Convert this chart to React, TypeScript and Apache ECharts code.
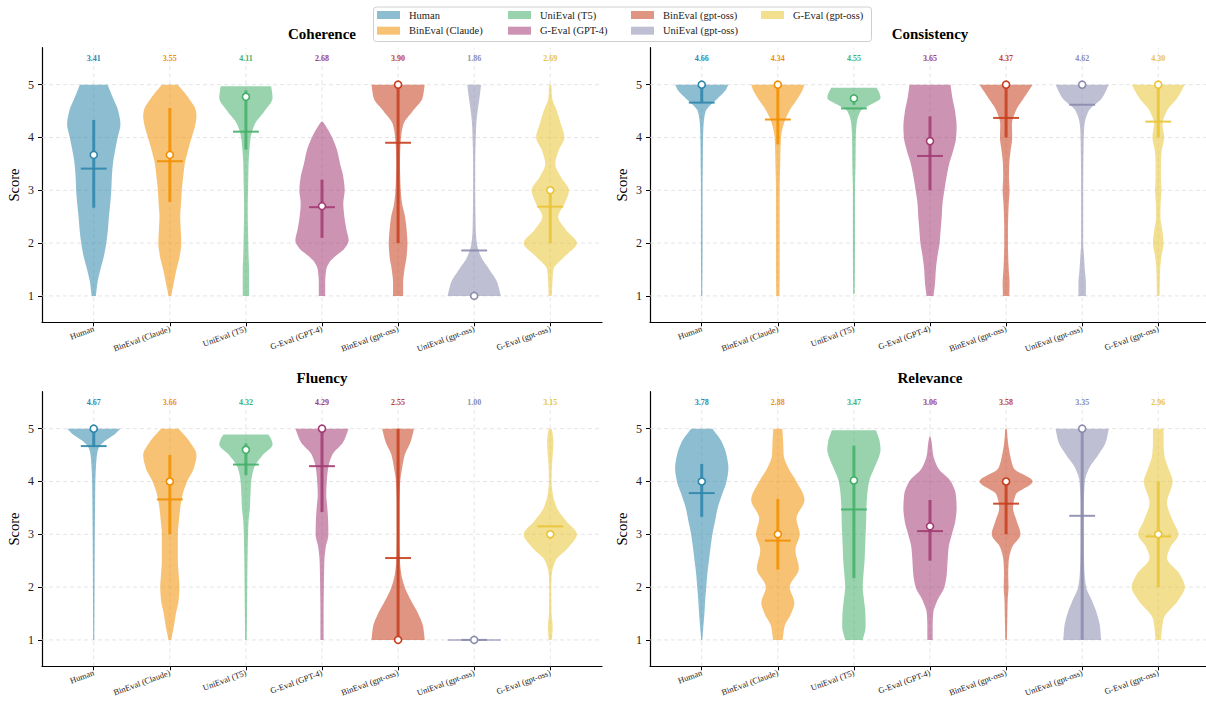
import React, { useEffect, useRef } from 'react';
import * as echarts from 'echarts';

const MODELS = ['Human', 'BinEval (Claude)', 'UniEval (T5)', 'G-Eval (GPT-4)', 'BinEval (gpt-oss)', 'UniEval (gpt-oss)', 'G-Eval (gpt-oss)'];
const COLORS = ['#2E86AB', '#F18F01', '#44AF69', '#A23B72', '#C73E1D', '#8B8BAE', '#EAC435'];
const METRICS = ['Coherence', 'Consistency', 'Fluency', 'Relevance'];
const Y_TICKS = [1, 2, 3, 4, 5];
const X_TICKS = [0, 1, 2, 3, 4, 5, 6];

// ---- Coherence ----
const COH_MEAN = [3.41, 3.55, 4.11, 2.68, 3.90, 1.86, 2.69];
const COH_MEDIAN = [3.67, 3.67, 4.77, 2.70, 5, 1, 3];
const COH_Q1 = [2.67, 2.78, 3.77, 2.1, 2, 1, 2];
const COH_Q3 = [4.33, 4.56, 4.89, 3.2, 5, 1, 3];
const COH_SHAPES = [
  [[1, .08], [1.25, .14], [1.5, .25], [1.75, .38], [2, .47], [2.25, .53], [2.5, .57], [2.75, .62], [3, .66], [3.25, .68], [3.5, .72], [3.75, .8], [4, .9], [4.25, 1], [4.5, .92], [4.75, .72], [5, .52]],
  [[1, .05], [1.25, .15], [1.5, .25], [1.75, .37], [2, .43], [2.25, .41], [2.5, .39], [2.75, .42], [3, .45], [3.25, .5], [3.5, .56], [3.75, .68], [4, .82], [4.25, .96], [4.4, 1], [4.5, .98], [4.75, .7], [5, .3]],
  [[1, .12], [1.25, .12], [1.5, .12], [1.75, .1], [2, .09], [2.25, .08], [2.5, .07], [2.75, .07], [3, .08], [3.25, .09], [3.5, .1], [3.75, .13], [4, .18], [4.25, .33], [4.5, .7], [4.75, 1], [4.97, .95]],
  [[1, .12], [1.25, .12], [1.5, .16], [1.65, .3], [1.75, .5], [1.9, .85], [2.05, 1], [2.25, .92], [2.5, .84], [2.75, .8], [3, .85], [3.25, .8], [3.5, .68], [3.75, .57], [4, .38], [4.25, .1], [4.3, .03]],
  [[1, .19], [1.25, .19], [1.5, .24], [1.75, .32], [2, .35], [2.25, .32], [2.5, .26], [2.75, .15], [3, .1], [3.25, .08], [3.5, .07], [3.75, .08], [4, .11], [4.25, .2], [4.5, .55], [4.75, .92], [5, 1]],
  [[1, 1], [1.25, .87], [1.5, .57], [1.75, .25], [2, .1], [2.25, .06], [2.5, .05], [3, .04], [3.5, .04], [4, .06], [4.25, .08], [4.5, .13], [4.75, .2], [5, .26]],
  [[1, .06], [1.25, .08], [1.5, .12], [1.75, .55], [2, 1], [2.25, .59], [2.5, .3], [2.75, .54], [3, .7], [3.25, .4], [3.5, .19], [3.75, .31], [4, .53], [4.25, .4], [4.5, .25], [4.75, .07], [5, .04]],
];

// ---- Consistency ----
const CON_MEAN = [4.66, 4.34, 4.55, 3.65, 4.37, 4.62, 4.30];
const CON_MEDIAN = [5, 5, 4.74, 3.93, 5, 5, 5];
const CON_Q1 = [4.67, 3.87, 4.62, 3, 4, 5, 4];
const CON_Q3 = [5, 5, 4.8, 4.4, 5, 5, 5];
const CON_SHAPES = [
  [[1, .02], [2, .03], [3, .03], [3.5, .04], [4, .05], [4.25, .07], [4.5, .15], [4.6, .3], [4.75, .62], [4.9, .9], [5, 1]],
  [[1, .06], [1.5, .07], [2, .07], [2.5, .07], [3, .07], [3.5, .09], [3.75, .1], [4, .12], [4.25, .22], [4.5, .43], [4.75, .76], [4.9, .93], [5, 1]],
  [[1.04, .03], [2, .04], [3, .04], [3.5, .06], [4, .07], [4.25, .1], [4.5, .25], [4.6, .55], [4.75, 1], [4.85, .95], [4.94, .85]],
  [[1, .13], [1.25, .19], [1.5, .22], [1.75, .28], [2, .36], [2.25, .4], [2.5, .44], [2.75, .47], [3, .54], [3.25, .62], [3.5, .72], [3.75, .87], [4, .98], [4.2, 1], [4.5, .94], [4.75, .84], [5, .77]],
  [[1, .12], [1.25, .13], [1.5, .1], [1.75, .08], [2, .07], [2.25, .07], [2.5, .08], [2.75, .1], [3, .13], [3.25, .11], [3.5, .12], [3.75, .17], [4, .23], [4.25, .22], [4.5, .36], [4.75, .67], [5, 1]],
  [[1, .14], [1.25, .14], [1.5, .1], [1.75, .07], [2, .04], [3, .04], [4, .06], [4.25, .09], [4.5, .24], [4.75, .75], [5, 1]],
  [[1, .05], [1.25, .06], [1.5, .07], [1.75, .12], [2, .2], [2.25, .15], [2.5, .08], [2.75, .09], [3, .12], [3.25, .1], [3.5, .1], [3.75, .13], [4, .22], [4.25, .16], [4.5, .32], [4.75, .72], [5, 1]],
];

// ---- Fluency ----
const FLU_MEAN = [4.67, 3.66, 4.32, 4.29, 2.55, 1.00, 3.15];
const FLU_MEDIAN = [5, 4, 4.6, 5, 1, 1, 3];
const FLU_Q1 = [4.67, 3, 4.12, 3.42, 1, 1, 3];
const FLU_Q3 = [5, 4.5, 4.72, 5, 5, 1, 3];
const FLU_SHAPES = [
  [[1, .02], [2, .03], [3, .04], [3.5, .05], [4, .06], [4.25, .08], [4.5, .12], [4.65, .2], [4.75, .38], [4.9, .8], [5, 1]],
  [[1, .05], [1.25, .15], [1.5, .23], [1.75, .33], [2, .36], [2.25, .33], [2.5, .3], [2.75, .3], [3, .3], [3.25, .34], [3.5, .39], [3.75, .48], [4, .65], [4.25, .9], [4.5, 1], [4.75, .75], [5, .33]],
  [[1, .03], [1.5, .04], [2, .05], [2.5, .06], [3, .08], [3.25, .1], [3.5, .15], [3.75, .17], [4, .2], [4.25, .3], [4.5, .63], [4.7, 1], [4.8, .95], [4.89, .84]],
  [[1, .06], [1.5, .06], [2, .07], [2.5, .09], [2.75, .14], [3, .24], [3.25, .23], [3.5, .2], [3.75, .16], [4, .18], [4.25, .23], [4.5, .38], [4.75, .8], [5, 1]],
  [[1, 1], [1.25, .94], [1.5, .75], [1.75, .48], [2, .25], [2.25, .12], [2.5, .07], [3, .05], [3.5, .05], [4, .08], [4.25, .15], [4.5, .25], [4.75, .47], [5, .6]],
  [[1, 1]],
  [[1, .06], [1.25, .09], [1.5, .05], [2, .04], [2.25, .06], [2.5, .2], [2.75, .68], [3, 1], [3.25, .6], [3.5, .25], [3.75, .1], [4, .05], [4.25, .06], [4.5, .09], [4.75, .12], [5, .06]],
];

// ---- Relevance ----
const REL_MEAN = [3.78, 2.88, 3.47, 3.06, 3.58, 3.35, 2.96];
const REL_MEDIAN = [4, 3, 4.02, 3.15, 4, 5, 3];
const REL_Q1 = [3.33, 2.33, 2.17, 2.5, 3, 1, 2];
const REL_Q3 = [4.33, 3.67, 4.68, 3.65, 4, 5, 4];
const REL_SHAPES = [
  [[1, .02], [1.25, .06], [1.5, .1], [1.75, .13], [2, .17], [2.25, .21], [2.5, .27], [2.75, .33], [3, .4], [3.25, .5], [3.5, .6], [3.75, .76], [4, .93], [4.25, 1], [4.5, .93], [4.75, .75], [5, .4]],
  [[1, .18], [1.25, .25], [1.5, .5], [1.7, .62], [2, .45], [2.35, .79], [2.7, .66], [3, .82], [3.3, .7], [3.65, 1], [4, .7], [4.25, .4], [4.5, .22], [4.75, .2], [5, .17]],
  [[1, .33], [1.25, .44], [1.5, .43], [1.75, .38], [2, .33], [2.25, .36], [2.5, .4], [2.75, .42], [3, .44], [3.25, .46], [3.5, .47], [3.75, .5], [4, .57], [4.25, .76], [4.5, .96], [4.6, 1], [4.75, .97], [4.97, .83]],
  [[1, .1], [1.25, .1], [1.5, .12], [1.75, .28], [2, .54], [2.25, .63], [2.5, .66], [2.75, .7], [3, .82], [3.25, .95], [3.5, 1], [3.75, .97], [4, .78], [4.25, .31], [4.5, .12], [4.75, .06], [4.85, .02]],
  [[1, .03], [1.5, .05], [1.75, .06], [2, .09], [2.25, .08], [2.5, .1], [2.75, .22], [3, .54], [3.25, .4], [3.5, .26], [3.75, .36], [4, 1], [4.25, .29], [4.5, .15], [4.75, .07], [5, .03]],
  [[1, .71], [1.25, .67], [1.5, .55], [1.75, .36], [2, .15], [2.25, .09], [2.5, .07], [3, .06], [3.5, .06], [4, .1], [4.25, .26], [4.5, .6], [4.75, .89], [5, 1]],
  [[1, .1], [1.25, .15], [1.4, .2], [1.75, .75], [2, 1], [2.25, .8], [2.55, .33], [2.75, .45], [3, .76], [3.25, .55], [3.6, .33], [4, .54], [4.25, .38], [4.5, .23], [4.75, .2], [5, .2]],
];

const PANELS = [
  { mean: COH_MEAN, median: COH_MEDIAN, q1: COH_Q1, q3: COH_Q3, shapes: COH_SHAPES },
  { mean: CON_MEAN, median: CON_MEDIAN, q1: CON_Q1, q3: CON_Q3, shapes: CON_SHAPES },
  { mean: FLU_MEAN, median: FLU_MEDIAN, q1: FLU_Q1, q3: FLU_Q3, shapes: FLU_SHAPES },
  { mean: REL_MEAN, median: REL_MEDIAN, q1: REL_Q1, q3: REL_Q3, shapes: REL_SHAPES },
];

const X_MIN = -0.68, X_MAX = 6.68, Y_MIN = 0.5, Y_MAX = 5.7;
const HALF = 0.35, MEAN_HALF = 0.17, LABEL_Y = 5.5;
const FONT = "'Liberation Serif', 'DejaVu Serif', serif";

function rgba(hex: string, a: number) {
  const n = parseInt(hex.slice(1), 16);
  return `rgba(${(n >> 16) & 255},${(n >> 8) & 255},${n & 255},${a})`;
}

// monotone cubic (Fritsch-Carlson) densification of the read outline
function densify(pts: number[][]): number[][] {
  const n = pts.length;
  if (n < 2) return pts;
  const xs = pts.map(p => p[0]), ys = pts.map(p => p[1]);
  const d: number[] = [], m: number[] = new Array(n);
  for (let i = 0; i < n - 1; i++) d[i] = (ys[i + 1] - ys[i]) / (xs[i + 1] - xs[i]);
  m[0] = d[0]; m[n - 1] = d[n - 2];
  for (let i = 1; i < n - 1; i++) {
    if (d[i - 1] * d[i] <= 0) m[i] = 0;
    else {
      const h0 = xs[i] - xs[i - 1], h1 = xs[i + 1] - xs[i];
      const w1 = 2 * h1 + h0, w2 = h1 + 2 * h0;
      m[i] = (w1 + w2) / (w1 / d[i - 1] + w2 / d[i]);
    }
  }
  const out: number[][] = [];
  for (let i = 0; i < n - 1; i++) {
    const h = xs[i + 1] - xs[i];
    const steps = 10;
    for (let s = 0; s < steps; s++) {
      const t = s / steps;
      const h00 = 2 * t * t * t - 3 * t * t + 1, h10 = t * t * t - 2 * t * t + t;
      const h01 = -2 * t * t * t + 3 * t * t, h11 = t * t * t - t * t;
      const v = h00 * ys[i] + h10 * h * m[i] + h01 * ys[i + 1] + h11 * h * m[i + 1];
      out.push([xs[i] + t * h, Math.max(0.02, v)]);
    }
  }
  out.push([xs[n - 1], Math.max(0.02, ys[n - 1])]);
  return out;
}

const GRIDS = [
  { left: 42, top: 47.7 },
  { left: 650, top: 47.7 },
  { left: 42, top: 391.7 },
  { left: 650, top: 391.7 },
];
const GRID_W = 560, GRID_H = 274.6;

export default function App() {
  const ref = useRef<HTMLDivElement>(null);
  useEffect(() => {
    if (!ref.current) return;
    const chart = echarts.init(ref.current, null, { renderer: 'svg' });

    const grid = GRIDS.map(g => ({ left: g.left, top: g.top, width: GRID_W, height: GRID_H, containLabel: false, outerBoundsMode: 'none' }));
    const xAxis = GRIDS.map((_, gi) => ({
      type: 'value', gridIndex: gi, min: X_MIN, max: X_MAX,
      axisLine: { show: true, onZero: false, lineStyle: { color: '#000', width: 1.2 } },
      axisTick: { show: true, customValues: X_TICKS, length: 4, lineStyle: { color: '#000', width: 1 } },
      axisLabel: {
        show: true, customValues: X_TICKS, formatter: (v: number) => MODELS[Math.round(v)] ?? '',
        rotate: 20, fontSize: 8.5, fontFamily: FONT, color: '#222', margin: 6,
      },
      splitLine: { show: false },
    }));
    const yAxis = GRIDS.map((_, gi) => ({
      type: 'value', gridIndex: gi, min: Y_MIN, max: Y_MAX,
      name: 'Score', nameLocation: 'middle', nameGap: 21,
      nameTextStyle: { fontSize: 14.5, fontFamily: FONT, color: '#000' },
      axisLine: { show: true, onZero: false, lineStyle: { color: '#000', width: 1.2 } },
      axisTick: { show: true, customValues: Y_TICKS, length: 4, lineStyle: { color: '#000', width: 1 } },
      axisLabel: { show: true, customValues: Y_TICKS, fontSize: 12, fontFamily: FONT, color: '#222', margin: 8 },
      splitLine: { show: false },
    }));

    const series: any[] = [];
    PANELS.forEach((p, gi) => {
      // grid lines
      const gridData = [
        ...Y_TICKS.map(v => [0, v]),
        ...X_TICKS.map(v => [1, v]),
      ];
      series.push({
        type: 'custom', name: 'grid-' + gi, xAxisIndex: gi, yAxisIndex: gi, z: 1, silent: true,
        data: gridData,
        renderItem: (_params: any, api: any) => {
          const kind = api.value(0), v = api.value(1);
          const a = kind === 0 ? api.coord([X_MIN, v]) : api.coord([v, Y_MIN]);
          const b = kind === 0 ? api.coord([X_MAX, v]) : api.coord([v, Y_MAX]);
          return {
            type: 'line', shape: { x1: a[0], y1: a[1], x2: b[0], y2: b[1] },
            style: { stroke: '#dedede', lineWidth: 0.8, lineDash: [4, 3] },
          };
        },
      });
      // violins
      MODELS.forEach((name, mi) => {
        const dense = densify(p.shapes[mi] as number[][]);
        series.push({
          type: 'custom', name, xAxisIndex: gi, yAxisIndex: gi, z: 2, silent: true,
          itemStyle: { color: COLORS[mi] },
          data: [[mi]],
          renderItem: (_params: any, api: any) => {
            const m = api.value(0);
            if (dense.length === 1) {
              const y = dense[0][0], w = dense[0][1];
              const a = api.coord([m - w * HALF, y]), b = api.coord([m + w * HALF, y]);
              return { type: 'line', shape: { x1: a[0], y1: a[1], x2: b[0], y2: b[1] }, style: { stroke: rgba(COLORS[mi], 0.55), lineWidth: 2 } };
            }
            const right = dense.map(([y, w]) => api.coord([m + w * HALF, y]));
            const left = dense.slice().reverse().map(([y, w]) => api.coord([m - w * HALF, y]));
            return {
              type: 'polygon', shape: { points: right.concat(left) },
              style: { fill: rgba(COLORS[mi], 0.55), stroke: 'none' },
            };
          },
        });
      });
      // statistics overlays
      series.push({
        type: 'custom', name: 'stats-' + gi, xAxisIndex: gi, yAxisIndex: gi, z: 3, silent: true,
        data: MODELS.map((_, mi) => [mi, p.mean[mi], p.median[mi], p.q1[mi], p.q3[mi]]),
        renderItem: (_params: any, api: any) => {
          const m = api.value(0), mean = api.value(1), med = api.value(2), q1 = api.value(3), q3 = api.value(4);
          const c = COLORS[m];
          const children: any[] = [];
          if (q3 > q1) {
            const a = api.coord([m, q1]), b = api.coord([m, q3]);
            children.push({ type: 'line', shape: { x1: a[0], y1: a[1], x2: b[0], y2: b[1] }, style: { stroke: rgba(c, 0.85), lineWidth: 3 } });
          }
          const ml = api.coord([m - MEAN_HALF, mean]), mr = api.coord([m + MEAN_HALF, mean]);
          children.push({ type: 'line', shape: { x1: ml[0], y1: ml[1], x2: mr[0], y2: mr[1] }, style: { stroke: rgba(c, 0.9), lineWidth: 2 } });
          const md = api.coord([m, med]);
          children.push({ type: 'circle', shape: { cx: md[0], cy: md[1], r: 3.5 }, style: { fill: '#fff', stroke: c, lineWidth: 1.6 } });
          const lp = api.coord([m, LABEL_Y]);
          children.push({
            type: 'text', x: lp[0], y: lp[1],
            style: { text: mean.toFixed(2), fill: c, font: `bold 8px ${FONT}`, align: 'center', verticalAlign: 'middle' },
          });
          return { type: 'group', children };
        },
      });
    });

    const title = METRICS.map((t, gi) => ({
      text: t, left: GRIDS[gi].left + GRID_W / 2, top: GRIDS[gi].top - 21, textAlign: 'center',
      textStyle: { fontSize: 15, fontWeight: 'bold', fontFamily: FONT, color: '#000' },
      padding: 0,
    }));

    const LEG_X = [377, 508, 631, 761];
    const legend = LEG_X.map((x, c) => ({
      orient: 'vertical', left: x, top: 9, padding: 0,
      itemWidth: 23, itemHeight: 8, itemGap: 3.7, icon: 'rect', selectedMode: false,
      textStyle: { fontSize: 10.5, fontFamily: FONT, color: '#222', lineHeight: 12, padding: [0, 0, 0, 4] },
      data: MODELS.slice(c * 2, c * 2 + 2).map((name, k) => ({ name, itemStyle: { color: rgba(COLORS[c * 2 + k], 0.55) } })),
    }));

    chart.setOption({
      animation: false,
      backgroundColor: '#fff',
      title, legend, grid, xAxis, yAxis, series,
      graphic: [{
        type: 'rect', left: 373, top: 6.5, z: -1,
        shape: { width: 498, height: 34.5, r: 3 },
        style: { fill: 'rgba(255,255,255,0.85)', stroke: '#cfcfcf', lineWidth: 1 },
      }],
    });
    return () => chart.dispose();
  }, []);
  return <div ref={ref} style={{ position: 'absolute', left: 0, top: 0, width: 1206, height: 702 }} />;
}
